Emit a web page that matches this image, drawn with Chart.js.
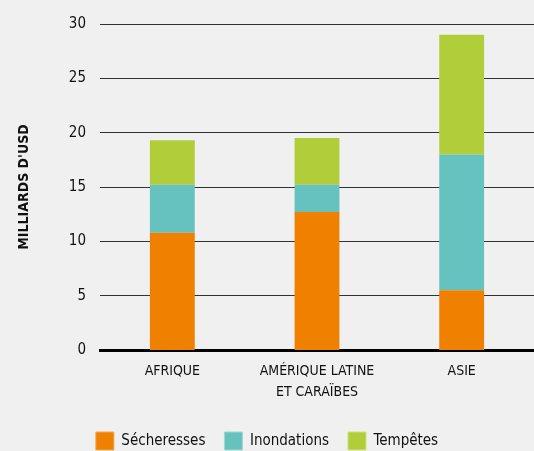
<!DOCTYPE html>
<html>
<head>
<meta charset="utf-8">
<script src="https://cdn.jsdelivr.net/npm/chart.js@4"></script>
<style>
  html, body { margin: 0; padding: 0; background: #f0f0f0; }
  #wrap { width: 534px; height: 451px; }
</style>
</head>
<body>
<div id="wrap"><canvas id="chart" width="534" height="451"></canvas></div>
<script>
const regions = ["AFRIQUE", ["AMÉRIQUE LATINE", "ET CARAÏBES"], "ASIE"];
const secheresses = [10.8, 12.7, 5.5];
const inondations = [4.4, 2.5, 12.5];
const tempetes = [4.1, 4.3, 11.0];
const yTicks = [0, 5, 10, 15, 20, 25, 30];

const FONT = "'Liberation Sans Narrow', 'DejaVu Sans Condensed', sans-serif";

const ctx = document.getElementById("chart");

new Chart(ctx, {
  type: "bar",
  data: {
    labels: regions,
    datasets: [
      { label: "Sécheresses", data: secheresses, backgroundColor: "#f08000", borderColor: "#f6a550", borderWidth: 0 },
      { label: "Inondations", data: inondations, backgroundColor: "#66c2be", borderColor: "#9fd8d4", borderWidth: 0 },
      { label: "Tempêtes", data: tempetes, backgroundColor: "#b2cd3a", borderColor: "#cfe07e", borderWidth: 0 }
    ]
  },
  options: {
    responsive: false,
    animation: false,
    layout: { padding: { top: 24, right: 0, left: 0, bottom: -9 } },
    datasets: { bar: { categoryPercentage: 1, barPercentage: 0.31 } },
    plugins: {
      tooltip: { enabled: false },
      legend: {
        position: "bottom",
        labels: {
          color: "#111",
          font: { family: FONT, size: 15 },
          boxWidth: 18,
          boxHeight: 18,
          padding: 19,
          generateLabels(chart) {
            return chart.data.datasets.map((ds, i) => ({
              text: ds.label,
              fillStyle: ds.backgroundColor,
              strokeStyle: ds.borderColor,
              lineWidth: 1,
              datasetIndex: i,
              fontColor: "#111"
            }));
          }
        }
      }
    },
    scales: {
      x: {
        stacked: true,
        // extra room between the region names and the legend
        afterFit(axis) { axis.height += 7; },
        grid: { display: false },
        border: { display: true, color: "#000", width: 3 },
        ticks: { color: "#111", font: { family: FONT, size: 14, lineHeight: 1.5 }, padding: 3, maxRotation: 0 }
      },
      y: {
        stacked: true,
        min: 0,
        max: 30,
        afterBuildTicks(axis) {
          axis.ticks = yTicks.map(v => ({ value: v }));
        },
        afterFit(axis) { axis.width = 100; },
        border: { display: false },
        grid: {
          color: "#333",
          lineWidth: c => (c.tick && c.tick.value === 0 ? 0 : 1),
          drawTicks: false
        },
        ticks: { color: "#111", font: { family: FONT, size: 15 }, padding: 14 },
        title: {
          display: true,
          text: "MILLIARDS D'USD",
          color: "#111",
          font: { family: FONT, size: 14, weight: "bold" },
          padding: { top: 16, bottom: 0 }
        }
      }
    }
  }
});
</script>
</body>
</html>
